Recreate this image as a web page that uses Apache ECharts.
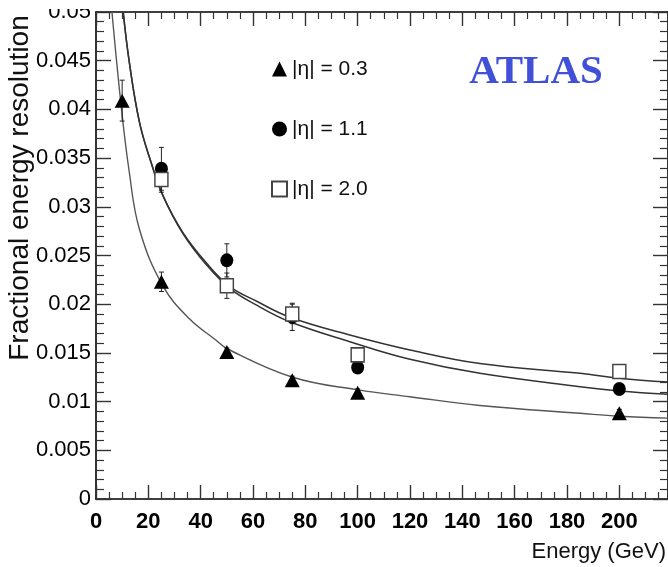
<!DOCTYPE html>
<html>
<head>
<meta charset="utf-8">
<script src="https://cdn.jsdelivr.net/npm/echarts@6/dist/echarts.min.js"></script>
<style>
  html, body { margin: 0; padding: 0; background: #fff; }
  #chart { width: 668px; height: 567px; }
</style>
</head>
<body>
<div id="chart"></div>
<script>
// Beam energies (GeV) and measured fractional resolutions for each |eta| bin
const eta03Energy = [10, 25, 50, 75, 100, 200];
const eta03Res    = [0.0409, 0.0223, 0.0151, 0.0122, 0.0109, 0.0088];
const eta03Err    = [0.0021, 0.0010, 0.0004, 0.0004, 0.0004, 0.0004];

const eta11Energy = [25, 50, 75, 100, 200];
const eta11Res    = [0.0339, 0.0245, 0.0187, 0.0135, 0.0113];
const eta11Err    = [0.0022, 0.0017, 0.0014, 0.0005, 0.0004];

const eta20Energy = [25, 50, 75, 100, 200];
const eta20Res    = [0.0328, 0.0219, 0.0190, 0.0148, 0.0131];
const eta20Err    = [0.0013, 0.0013, 0.0010, 0.0005, 0.0004];

// Fitted resolution curves, sampled along each fit
const fit03Energy = [6.1, 9.6, 12.7, 16.6, 25.5, 35.7, 45.9, 50.3, 75.2, 100.2, 120, 146.7, 185, 200, 218.6];
const fit03Res    = [0.0500, 0.0404, 0.0336, 0.0277, 0.0219, 0.0185, 0.0163, 0.0154, 0.0125, 0.0112, 0.0105, 0.0096, 0.0088, 0.0085, 0.0083];

const fit11Energy = [10.4, 12.7, 16.6, 21, 25.5, 33.1, 42, 51.2, 61.4, 74.1, 97, 120, 146.7, 185, 200, 218.6];
const fit11Res    = [0.0500, 0.0449, 0.0387, 0.0346, 0.0312, 0.0273, 0.0241, 0.0216, 0.0199, 0.0182, 0.01615, 0.01434, 0.0129, 0.01153, 0.0111, 0.01075];

const fit20Energy = [10.4, 12.7, 16.6, 21, 25.5, 33.1, 42, 51.2, 61.4, 74.1, 97, 120, 146.7, 185, 200, 218.6];
const fit20Res    = [0.0500, 0.0449, 0.0387, 0.0346, 0.0312, 0.0274, 0.0243, 0.0218, 0.0203, 0.01866, 0.01684, 0.0153, 0.0139, 0.0129, 0.0124, 0.0120];

const seriesNames = ['|\u03b7| = 0.3', '|\u03b7| = 1.1', '|\u03b7| = 2.0'];

const pairs = (xs, ys) => xs.map((x, i) => [x, ys[i]]);
const errRows = (xs, ys, es) => xs.map((x, i) => [x, ys[i] - es[i], ys[i] + es[i]]);

const SANS = '"Liberation Sans", Arial, Helvetica, sans-serif';

function errorBar(params, api) {
  const x = api.value(0);
  const top = api.coord([x, api.value(2)]);
  const bot = api.coord([x, api.value(1)]);
  const cap = 2.5;
  const style = { stroke: '#222', lineWidth: 1 };
  return {
    type: 'group',
    children: [
      { type: 'line', shape: { x1: top[0], y1: top[1], x2: bot[0], y2: bot[1] }, style },
      { type: 'line', shape: { x1: top[0] - cap, y1: top[1], x2: top[0] + cap, y2: top[1] }, style },
      { type: 'line', shape: { x1: bot[0] - cap, y1: bot[1], x2: bot[0] + cap, y2: bot[1] }, style }
    ]
  };
}

const frameLine = { show: true, onZero: false, lineStyle: { color: '#000', width: 1.6 } };
const majorTick = len => ({ inside: true, length: len, lineStyle: { color: '#333', width: 1.4 } });
const minorTick = (n, len) => ({ show: true, splitNumber: n, length: len, lineStyle: { color: '#333', width: 1.2 } });

const fitLine = (xs, ys, color, width) => ({
  type: 'line', data: pairs(xs, ys), symbol: 'none',
  smooth: 0.4, clip: true, silent: true, z: 2,
  lineStyle: { color, width }
});

const chart = echarts.init(document.getElementById('chart'), null, { renderer: 'canvas' });

chart.setOption({
  backgroundColor: '#fff',
  animation: false,
  grid: { left: 96, right: 0, top: 12, bottom: 68 },
  legend: {
    orient: 'vertical',
    left: 266,
    top: 52,
    itemWidth: 15,
    itemHeight: 15,
    itemGap: 36,
    data: seriesNames,
    textStyle: { fontFamily: SANS, fontSize: 21, color: '#111', lineHeight: 24 }
  },
  xAxis: [
    {
      type: 'value', position: 'bottom', min: 0, max: 218.6, interval: 20,
      axisLine: frameLine,
      axisTick: majorTick(14),
      minorTick: minorTick(4, 7),
      splitLine: { show: false },
      axisLabel: {
        margin: 12, showMaxLabel: false,
        fontFamily: SANS, fontWeight: 'bold', fontSize: 22, color: '#000',
        formatter: v => (Math.abs(v % 20) < 1e-6 ? String(v) : '')
      }
    },
    {
      type: 'value', position: 'top', min: 0, max: 218.6, interval: 20,
      axisLine: frameLine,
      axisTick: majorTick(14),
      minorTick: minorTick(4, 7),
      splitLine: { show: false },
      axisLabel: { show: false }
    }
  ],
  yAxis: [
    {
      type: 'value', position: 'left', min: 0, max: 0.05, interval: 0.005,
      axisLine: frameLine,
      axisTick: majorTick(15),
      minorTick: minorTick(5, 8),
      splitLine: { show: false },
      axisLabel: {
        margin: 5, padding: [6, 0, 0, 0],
        fontFamily: SANS, fontSize: 22, color: '#000'
      }
    },
    {
      type: 'value', position: 'right', min: 0, max: 0.05, interval: 0.005,
      axisLine: frameLine,
      axisTick: majorTick(15),
      minorTick: minorTick(5, 8),
      splitLine: { show: false },
      axisLabel: { show: false }
    }
  ],
  graphic: [
    // top of the "0.05" label is cut off by the frame edge
    { type: 'rect', shape: { x: 36, y: 0, width: 58, height: 9 }, style: { fill: '#fff' }, z: 100 },
    {
      type: 'text', x: 20, y: 188, rotation: Math.PI / 2, z: 100,
      style: {
        text: 'Fractional energy resolution', fontFamily: SANS, fontSize: 28,
        fill: '#111', align: 'center', verticalAlign: 'middle'
      }
    },
    {
      type: 'text', x: 666, y: 552, z: 100,
      style: {
        text: 'Energy (GeV)', fontFamily: SANS, fontSize: 22,
        fill: '#111', align: 'right', verticalAlign: 'middle'
      }
    },
    {
      type: 'text', x: 536, y: 72, z: 100,
      style: {
        text: 'ATLAS', fontFamily: '"Liberation Serif", "Times New Roman", serif',
        fontWeight: 'bold', fontSize: 41, fill: '#4150d8',
        align: 'center', verticalAlign: 'middle'
      }
    }
  ],
  series: [
    fitLine(fit03Energy, fit03Res, '#555', 1.4),
    fitLine(fit11Energy, fit11Res, '#333', 1.5),
    fitLine(fit20Energy, fit20Res, '#333', 1.5),
    { type: 'custom', renderItem: errorBar, data: errRows(eta03Energy, eta03Res, eta03Err), encode: { x: 0, y: [1, 2] }, z: 3, silent: true },
    { type: 'custom', renderItem: errorBar, data: errRows(eta11Energy, eta11Res, eta11Err), encode: { x: 0, y: [1, 2] }, z: 3, silent: true },
    { type: 'custom', renderItem: errorBar, data: errRows(eta20Energy, eta20Res, eta20Err), encode: { x: 0, y: [1, 2] }, z: 3, silent: true },
    {
      name: seriesNames[0], type: 'scatter', data: pairs(eta03Energy, eta03Res),
      symbol: 'triangle', symbolSize: [15, 14], z: 5,
      itemStyle: { color: '#000', opacity: 1 }
    },
    {
      name: seriesNames[1], type: 'scatter', data: pairs(eta11Energy, eta11Res),
      symbol: 'circle', symbolSize: [13, 14], z: 5,
      itemStyle: { color: '#000', opacity: 1 }
    },
    {
      name: seriesNames[2], type: 'scatter', data: pairs(eta20Energy, eta20Res),
      symbol: 'rect', symbolSize: [13, 14], z: 5,
      itemStyle: { color: '#fff', borderColor: '#444', borderWidth: 1.5, opacity: 1 }
    }
  ]
});
</script>
</body>
</html>
